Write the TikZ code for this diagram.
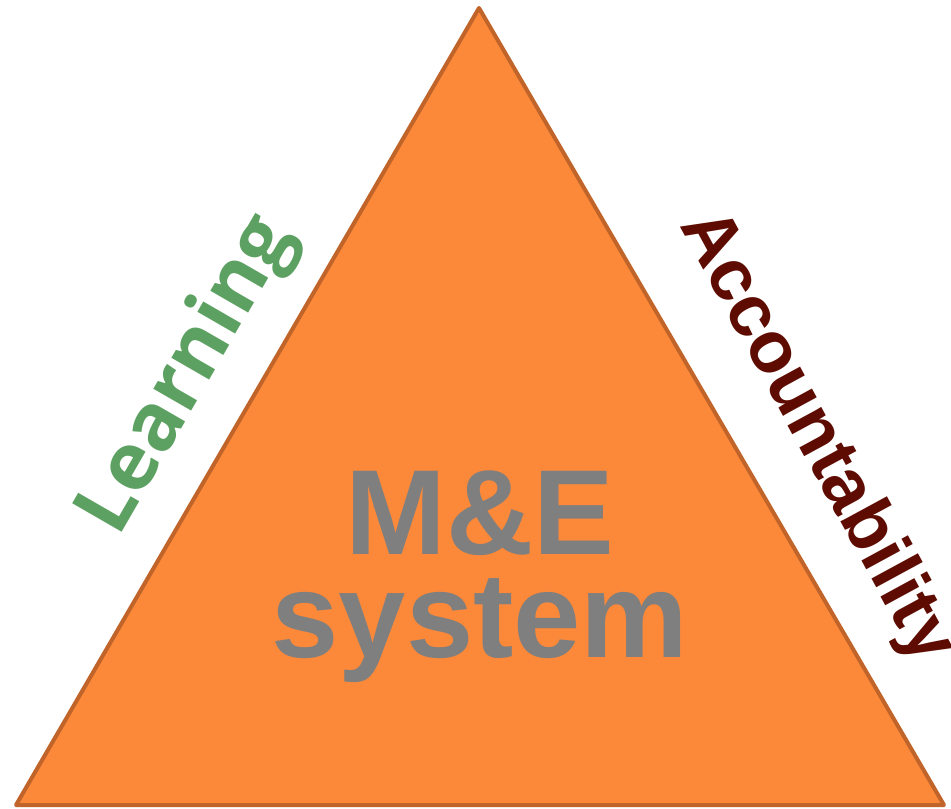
\documentclass[tikz,border=0pt]{standalone}
\usepackage{fontspec}
\setmainfont{Liberation Sans}
\newfontfamily\learnfont{Open Sans}
\definecolor{trifill}{RGB}{252,137,58}
\definecolor{tristroke}{RGB}{192,100,42}
\definecolor{learngreen}{RGB}{93,161,98}
\definecolor{accred}{RGB}{94,12,2}
\definecolor{megray}{RGB}{127,127,127}
\tikzset{
  tri/.style={fill=trifill, draw=tristroke, line width=4pt, line join=round},
  sidelabel/.style={inner sep=0pt, font=\bfseries\fontsize{78}{78}\selectfont},
}
\begin{document}
\begin{tikzpicture}[x=1pt,y=-1pt]
\useasboundingbox (0,0) rectangle (951,809);
\coordinate (apex) at (479,8);
\coordinate (bl) at (16,805);
\coordinate (br) at (944,805);
\draw[tri] (apex) -- (bl) -- (br) -- cycle;
\node[sidelabel, text=learngreen, font=\learnfont\bfseries\fontsize{80}{80}\selectfont, rotate=60] (learn) at (188,376) {Learning};
\node[sidelabel, text=accred, font=\bfseries\fontsize{73}{73}\selectfont, rotate=-61.5] (acc) at (816,437) {Accountability};
\node[text=megray, align=center, inner sep=0pt, font=\bfseries\fontsize{121}{103}\selectfont] (me) at (480,577) {M\&E\\system};
\end{tikzpicture}
\end{document}
